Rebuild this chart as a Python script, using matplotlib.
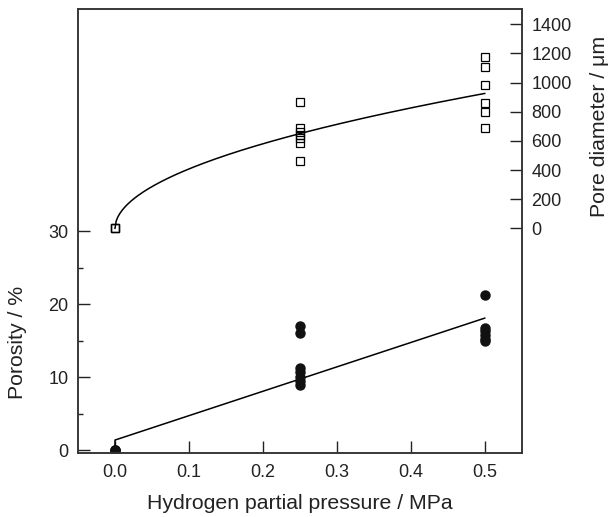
import numpy as np
import matplotlib.pyplot as plt

plt.rcParams['font.family'] = ['Liberation Sans', 'DejaVu Sans']

# porosity data (filled circles)
por_x = [0.0, 0.0, 0.0,
         0.25, 0.25, 0.25, 0.25, 0.25, 0.25, 0.25,
         0.5, 0.5, 0.5, 0.5, 0.5, 0.5]
por_y = [0.0, 0.0, 0.0,
         17.0, 16.1, 11.3, 10.7, 10.1, 9.5, 8.9,
         21.3, 16.8, 16.3, 15.8, 15.3, 14.9]
# linear fit for porosity
por_fit_x = [0.0, 0.0, 0.5]
por_fit_y = [0.0, 1.4, 18.1]

# pore diameter data (open squares)
dia_x = [0.0, 0.0, 0.0,
         0.25, 0.25, 0.25, 0.25, 0.25, 0.25, 0.25,
         0.5, 0.5, 0.5, 0.5, 0.5, 0.5]
dia_y = [0, 0, 0,
         869, 686, 663, 640, 618, 583, 464,
         1178, 1109, 983, 858, 800, 686]
# power-law fit  d = a * p^b
fit_a = 1318
fit_b = 0.51

fig = plt.figure(figsize=(6.11, 5.17), dpi=100)
ax = fig.add_axes([0.1277, 0.1244, 0.7261, 0.8576])
ax2 = ax.twinx()

ax.plot(por_fit_x, por_fit_y, color='black', lw=1.1)
ax.plot(por_x, por_y, 'o', color='#111111', ms=6.5, mec='#111111')

xs = np.linspace(0, 0.5, 300)
ax2.plot(xs, fit_a * xs ** fit_b, color='black', lw=1.1)
ax2.plot(dia_x, dia_y, 's', mfc='none', mec='black', ms=5.5, mew=0.9)

ax.set_xlim(-0.05, 0.55)
ax.set_ylim(-0.33, 60.4)
ax2.set_ylim(-1540, 1503)

ax.set_xticks([0.0, 0.1, 0.2, 0.3, 0.4, 0.5])
ax.set_xticklabels(['0.0', '0.1', '0.2', '0.3', '0.4', '0.5'])
ax.set_yticks([0, 10, 20, 30])
ax.yaxis.set_minor_locator(plt.FixedLocator([5, 15, 25]))
ax2.set_yticks(range(0, 1401, 200))

ax.tick_params(axis='both', which='major', direction='in', length=8.5, width=1.0,
               labelsize=13, colors='#222222', pad=7)
ax.tick_params(axis='y', which='minor', direction='in', length=3.6, width=1.0, colors='#222222')
ax.tick_params(axis='x', which='major', pad=8)
ax2.tick_params(axis='y', which='major', direction='in', length=8.5, width=1.0,
                labelsize=13, colors='#222222', pad=7)

for a in (ax, ax2):
    for s in a.spines.values():
        s.set_linewidth(1.1)
        s.set_color('#333333')

ax.set_xlabel('Hydrogen partial pressure / MPa', fontsize=15.3, color='#222222')
ax.set_ylabel('Porosity / %', fontsize=15.3, color='#222222')
ax2.set_ylabel('Pore diameter / μm', fontsize=15.3, color='#222222')
ax.xaxis.set_label_coords(0.5, -0.093)
ax.yaxis.set_label_coords(-0.115, 0.248)
ax2.yaxis.set_label_coords(1.155, 0.735)

fig.savefig('out.png', dpi=100)
